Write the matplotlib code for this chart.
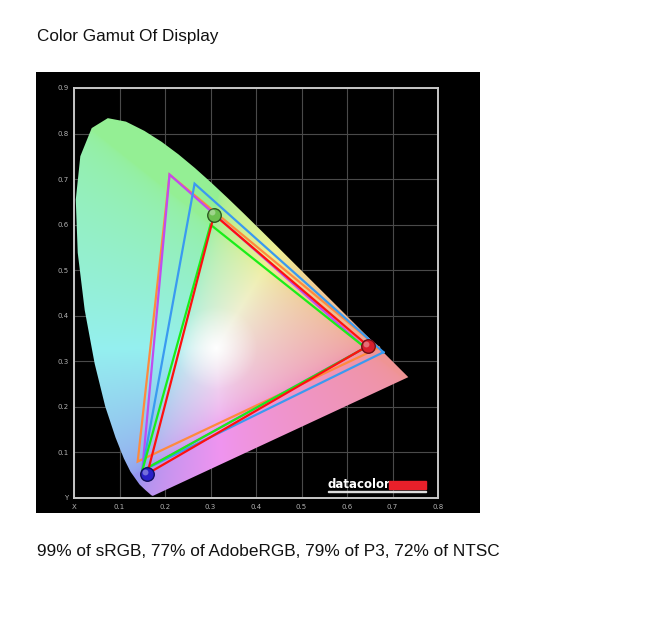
import numpy as np
import matplotlib.pyplot as plt
from matplotlib.patches import Polygon, Rectangle

# CIE 1931 spectral locus (x, y), 380 nm .. 700 nm
locus_x = [0.1741, 0.1733, 0.1726, 0.1714, 0.1689, 0.1644, 0.1566, 0.1440, 0.1241, 0.1096,
           0.0913, 0.0687, 0.0454, 0.0235, 0.0082, 0.0039, 0.0139, 0.0389, 0.0743, 0.1142,
           0.1547, 0.1929, 0.2296, 0.2658, 0.3016, 0.3373, 0.3731, 0.4087, 0.4441, 0.4788,
           0.5125, 0.5448, 0.5752, 0.6029, 0.6270, 0.6482, 0.6658, 0.6915, 0.7079, 0.7190,
           0.7260, 0.7300, 0.7334, 0.7347]
locus_y = [0.0050, 0.0048, 0.0048, 0.0051, 0.0069, 0.0109, 0.0177, 0.0297, 0.0578, 0.0868,
           0.1327, 0.2007, 0.2950, 0.4127, 0.5384, 0.6548, 0.7502, 0.8120, 0.8338, 0.8262,
           0.8059, 0.7816, 0.7543, 0.7243, 0.6923, 0.6589, 0.6245, 0.5896, 0.5547, 0.5202,
           0.4866, 0.4544, 0.4242, 0.3965, 0.3725, 0.3514, 0.3340, 0.3083, 0.2920, 0.2809,
           0.2740, 0.2700, 0.2666, 0.2653]

# reference gamuts (R, G, B)
ntsc_x = [0.67, 0.21, 0.14]
ntsc_y = [0.33, 0.71, 0.08]
adobe_x = [0.64, 0.21, 0.15]
adobe_y = [0.33, 0.71, 0.06]
p3_x = [0.68, 0.265, 0.15]
p3_y = [0.32, 0.69, 0.06]
srgb_x = [0.64, 0.30, 0.15]
srgb_y = [0.33, 0.60, 0.06]
# measured display primaries
disp_x = [0.646, 0.308, 0.161]
disp_y = [0.334, 0.622, 0.053]

xtick_labels = ['X', '0.1', '0.2', '0.3', '0.4', '0.5', '0.6', '0.7', '0.8']
ytick_labels = ['Y', '0.1', '0.2', '0.3', '0.4', '0.5', '0.6', '0.7', '0.8', '0.9']

title = 'Color Gamut Of Display'
caption = '99% of sRGB, 77% of AdobeRGB, 79% of P3, 72% of NTSC'

W, H = 660, 621
fig = plt.figure(figsize=(W / 100, H / 100), dpi=100)
fig.patch.set_facecolor('white')

def px_axes(l, t, r, b):
    return fig.add_axes([l / W, 1 - b / H, (r - l) / W, (b - t) / H])

def px_rect(l, t, r, b, c):
    fig.add_artist(Rectangle((l / W, 1 - b / H), (r - l) / W, (b - t) / H,
                             transform=fig.transFigure, color=c, zorder=10))

bg = px_axes(36, 72, 480, 513)
bg.set_facecolor('black')
bg.set_xticks([])
bg.set_yticks([])
for s in bg.spines.values():
    s.set_visible(False)

ax = px_axes(74, 88, 438, 498)
ax.set_facecolor('black')
ax.set_xlim(0, 0.8)
ax.set_ylim(0, 0.9)
ax.set_xticks(np.arange(9) * 0.1)
ax.set_xticklabels(xtick_labels)
ax.set_yticks(np.arange(10) * 0.1)
ax.set_yticklabels(ytick_labels)
ax.tick_params(length=0, labelsize=5, colors='#b0b0b0', pad=4)
ax.grid(color='#4a4a4a', linewidth=0.8)
ax.set_axisbelow(True)
for s in ax.spines.values():
    s.set_color('#c8c8c8')
    s.set_linewidth(1.4)

# pastel chromaticity fill
n = 500
gx, gy = np.meshgrid(np.linspace(0, 0.8, n), np.linspace(0, 0.9, n))
yy = np.maximum(gy, 1e-3)
X = gx / yy
Z = (1 - gx - gy) / yy
M = np.array([[3.2406, -1.5372, -0.4986],
              [-0.9689, 1.8758, 0.0415],
              [0.0557, -0.2040, 1.0570]])
lin = np.stack([X, np.ones_like(X), Z], axis=-1) @ M.T
lin = np.clip(lin, 0, None)
lin = lin / np.maximum(lin.max(axis=-1, keepdims=True), 1e-6)
rgb = lin ** (1 / 2.2)
d = np.hypot(gx - 0.3127, gy - 0.329)
ramp = np.clip(d / 0.09, 0, 1) ** 0.7
s = 0.38 * ramp
img = 1 - s[..., None] * (1 - rgb)
img = img * (1 - 0.06 * ramp)[..., None]
im = ax.imshow(img, origin='lower', extent=[0, 0.8, 0, 0.9], aspect='auto',
               interpolation='bilinear', zorder=2)
poly = Polygon(list(zip(locus_x, locus_y)), closed=True, transform=ax.transData)
im.set_clip_path(poly)

def tri(xs, ys, c):
    ax.plot(xs + xs[:1], ys + ys[:1], color=c, linewidth=1.6, zorder=3,
            solid_joinstyle='miter')

tri(ntsc_x, ntsc_y, '#ff8a3d')
tri(adobe_x, adobe_y, '#c04cf0')
tri(p3_x, p3_y, '#3a9af0')
tri(srgb_x, srgb_y, '#19ee19')
tri(disp_x, disp_y, '#ff1010')

sphere_cols = ['#d8202c', '#6cc050', '#2a20c8']
edge_cols = ['#701018', '#2c5a20', '#101060']
for x, y, c, e in zip(disp_x, disp_y, sphere_cols, edge_cols):
    ax.scatter([x], [y], s=95, color=c, edgecolors=e, linewidths=1.0, zorder=5)
    ax.scatter([x - 0.004], [y + 0.005], s=18, color='white', alpha=0.35,
               linewidths=0, zorder=6)

# datacolor logo
fig.text(327 / W, 1 - 485 / H, 'datacolor', color='white', fontsize=8.5,
         fontweight='bold', va='center', ha='left', family='DejaVu Sans')
px_rect(389, 481, 426, 489, '#e8202a')
px_rect(328, 491, 426, 492.3, '#dddddd')

fig.text(37 / W, 1 - 37 / H, title, fontsize=12.3, family='Liberation Sans',
         va='center', ha='left', color='#111111')
fig.text(37 / W, 1 - 551 / H, caption, fontsize=12.4, family='Liberation Sans',
         va='center', ha='left', color='#111111')

fig.savefig('out.png', dpi=100)
